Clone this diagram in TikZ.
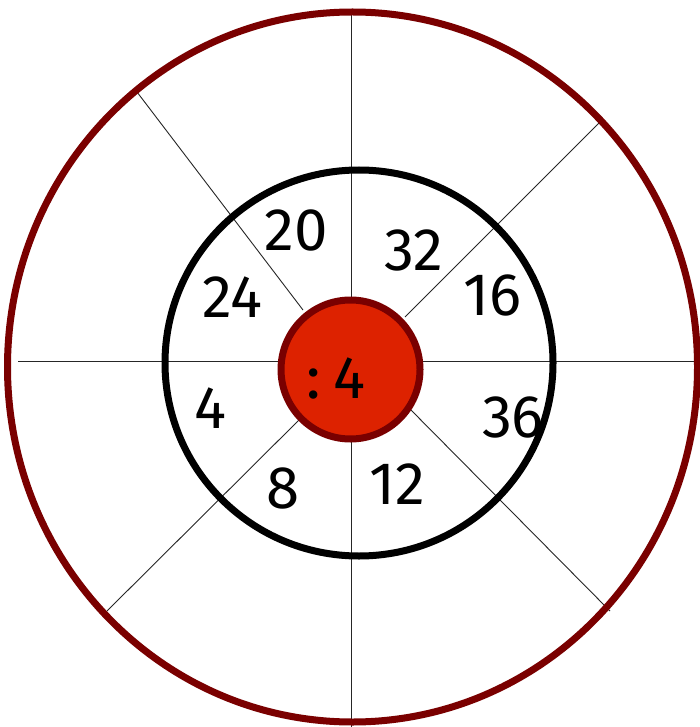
\documentclass[tikz,border=0pt]{standalone}
\usepackage{fontspec}
\setmainfont{Fira Sans}
\definecolor{rim}{HTML}{7A0000}
\definecolor{hub}{HTML}{DD2200}
\begin{document}
\begin{tikzpicture}[x=1pt,y=-1pt,
  spoke/.style={line width=0.9pt,black!85},
  num/.style={font=\fontsize{60}{66}\selectfont,inner sep=0pt}]
\useasboundingbox[fill=white] (0,0) rectangle (700,727);
% spokes
\draw[spoke] (18,361) -- (700,361);
\draw[spoke] (351,15) -- (351,727);
\draw[spoke] (137,92) -- (303,310);
\draw[spoke] (600,122) -- (405,317);
\draw[spoke] (107,611) -- (303,416);
\draw[spoke] (407,406) -- (610,611);
% rings
\draw[rim,line width=7pt] (352.5,367) ellipse [x radius=345, y radius=355];
\draw[black,line width=7pt] (359,363) ellipse [x radius=194, y radius=193];
\draw[rim,fill=hub,line width=7pt] (350.5,369.5) circle [radius=69.5];
% labels
\node[num] (n20) at (296,230) {20};
\node[num] (n32) at (414,250) {32};
\node[num] (n24) at (232,297) {24};
\node[num] (n16) at (492,295) {16};
\node[num] (c4) at (336,378) {:\hspace{12pt}4};
\node[num] (n4) at (210,408) {4};
\node[num] (n36) at (513,417) {36};
\node[num] (n8) at (283,488) {8};
\node[num] (n12) at (397,484) {12};
\end{tikzpicture}
\end{document}
